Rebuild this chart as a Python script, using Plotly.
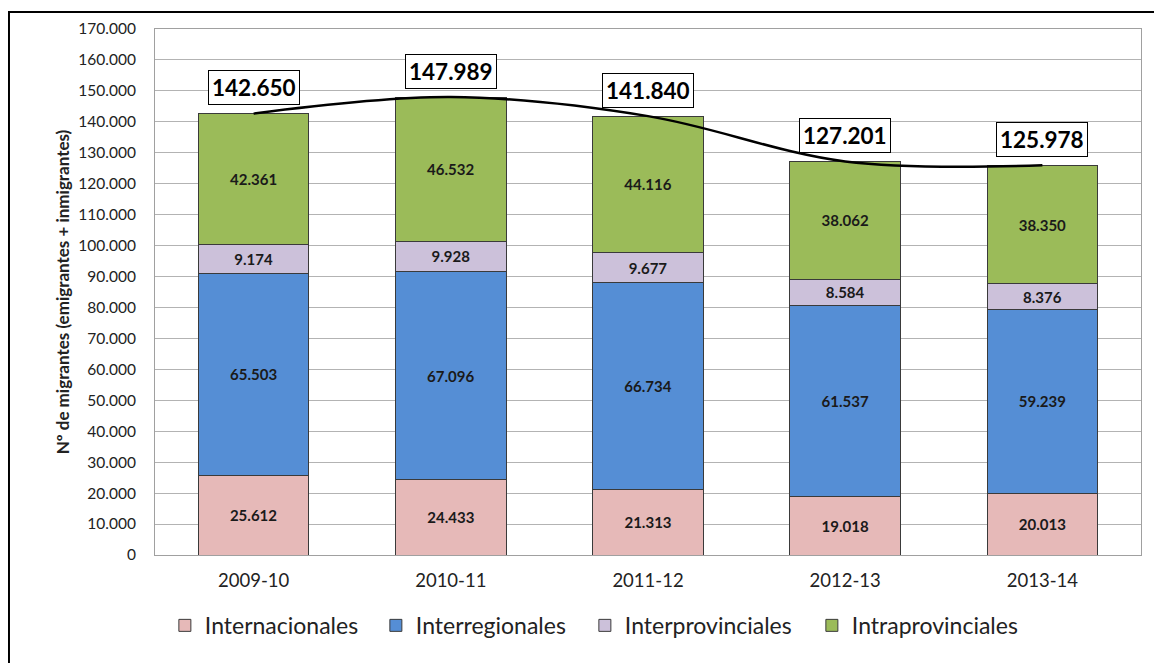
import plotly.graph_objects as go

periods = ["2009-10", "2010-11", "2011-12", "2012-13", "2013-14"]
internacionales = [25612, 24433, 21313, 19018, 20013]
interregionales = [65503, 67096, 66734, 61537, 59239]
interprovinciales = [9174, 9928, 9677, 8584, 8376]
intraprovinciales = [42361, 46532, 44116, 38062, 38350]
totals = [142650, 147989, 141840, 127201, 125978]
y_ticks = list(range(0, 170001, 10000))

series = [
    ("Internacionales", internacionales, "#E6B9B8", 166),
    ("Interregionales", interregionales, "#558ED5", 164),
    ("Interprovinciales", interprovinciales, "#CCC1DA", 182),
    ("Intraprovinciales", intraprovinciales, "#9BBB59", 170),
]

FONT = "Lato, 'Open Sans', sans-serif"

fig = go.Figure()
for name, vals, color, lw in series:
    fig.add_trace(go.Bar(
        x=periods, y=vals, name=name, legendwidth=lw,
        marker=dict(color=color, line=dict(color="#3a3a3a", width=1)),
        texttemplate="<b>%{y:,}</b>", textposition="inside",
        insidetextanchor="middle", constraintext="none",
        textfont=dict(size=15, color="#1a1a1a", family=FONT),
        hoverinfo="skip",
    ))

fig.add_trace(go.Scatter(
    x=periods, y=totals, mode="lines", showlegend=False,
    line=dict(color="black", width=2.5, shape="spline", smoothing=1.0),
    hoverinfo="skip",
))

for p, t in zip(periods, totals):
    fig.add_annotation(
        x=p, y=t, text=f"<b>{t:,}</b>".replace(",", "."),
        showarrow=False, yshift=26,
        font=dict(size=22.5, color="black", family=FONT),
        bgcolor="white", bordercolor="black", borderwidth=1, borderpad=3,
    )

# outer frame
fig.add_shape(type="rect", xref="paper", yref="paper",
              x0=-0.1481, x1=1.03, y0=-0.22, y1=1.0323,
              line=dict(color="black", width=2), layer="below")

fig.update_layout(
    width=1154, height=655,
    margin=dict(l=147, r=21, t=21, b=108, autoexpand=False),
    paper_bgcolor="white", plot_bgcolor="white",
    barmode="stack", bargap=0.44,
    separators=",.",
    font=dict(family=FONT, color="#222222"),
    showlegend=True,
    legend=dict(
        orientation="h", x=0.01, xanchor="left", y=-0.093, yanchor="top",
        font=dict(size=23, color="#222222", family=FONT),
        traceorder="normal", itemwidth=30,
    ),
    xaxis=dict(
        type="category", automargin=False,
        showgrid=False, showline=True, linecolor="#a0a0a0", mirror=True,
        ticks="outside", ticklen=9, tickcolor="white",
        tickfont=dict(size=18.5, color="#222222"),
    ),
    yaxis=dict(
        range=[0, 170000], tickvals=y_ticks, tickformat=",", automargin=False,
        showgrid=True, gridcolor="#b3b3b3", gridwidth=1,
        showline=True, linecolor="#a0a0a0", mirror=True, zeroline=False,
        ticks="", ticklabelstandoff=15,
        tickfont=dict(size=15.5, color="#222222"),
        title=dict(text="<b>Nº de migrantes (emigrantes + inmigrantes)</b>",
                   font=dict(size=17, color="#222222"), standoff=4),
    ),
)

fig.write_html("out.html")
